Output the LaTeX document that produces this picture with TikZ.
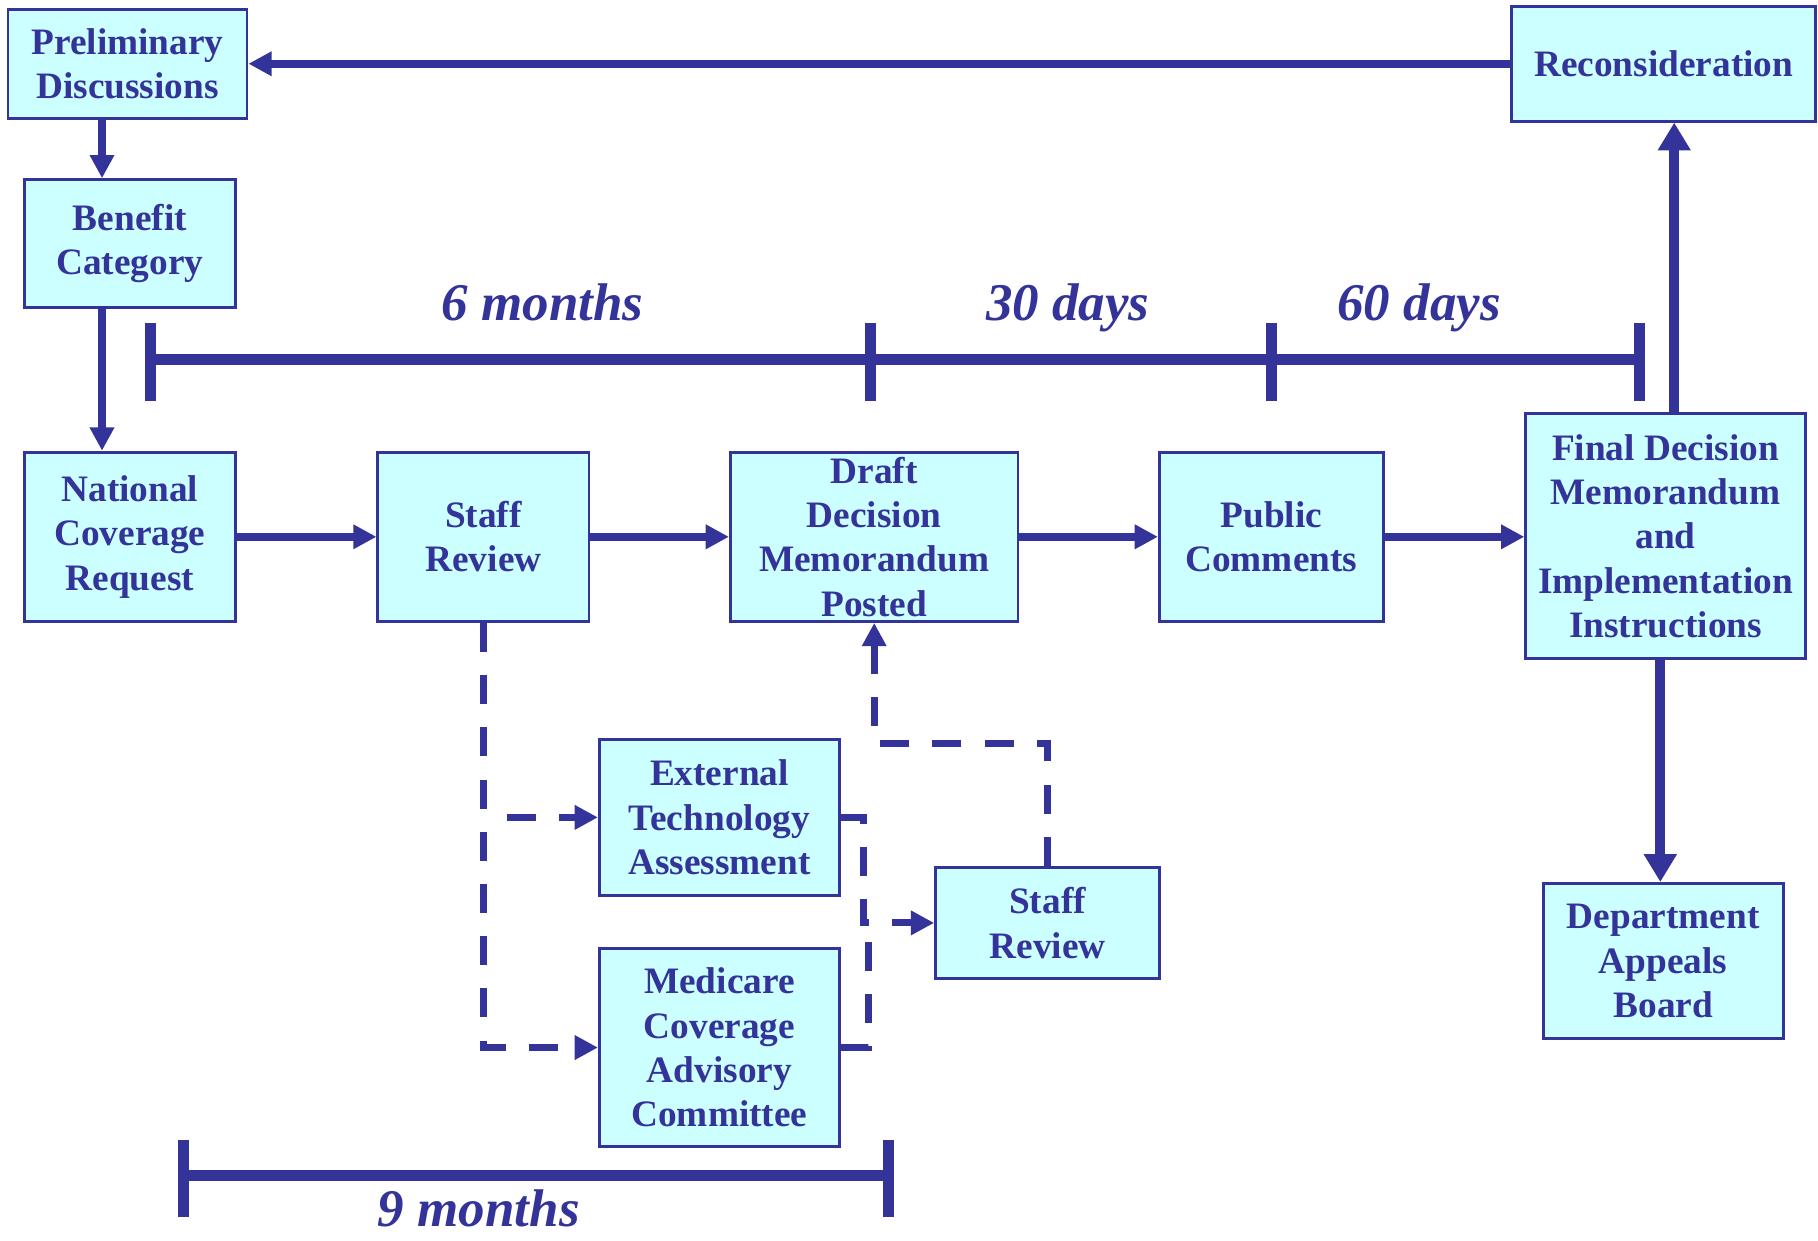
\documentclass[tikz,border=0pt]{standalone}
\usepackage{fontspec}
\setmainfont{Liberation Serif}
\usetikzlibrary{arrows.meta}
\definecolor{ink}{HTML}{333399}
\definecolor{boxfill}{HTML}{CCFFFF}
\begin{document}
\begin{tikzpicture}[x=0.01cm,y=-0.01cm,
  box/.style={draw=ink, fill=boxfill, line width=0.7pt, inner sep=0pt, align=center,
    text=ink, font=\bfseries\fontsize{9.15}{10.9}\selectfont},
  flow/.style={draw=ink, line width=0.065cm, -{Triangle[length=0.2cm,width=0.2cm]}},
  bigflow/.style={draw=ink, line width=0.088cm, -{Triangle[length=0.24cm,width=0.27cm]}},
  dline/.style={draw=ink, line width=0.06cm, dash pattern=on 0.25cm off 0.2cm},
  dflow/.style={dline, -{Triangle[length=0.2cm,width=0.2cm]}},
  bar/.style={draw=ink, line width=0.095cm},
  tlabel/.style={text=ink, inner sep=0pt, anchor=base, font=\bfseries\itshape\fontsize{13}{15}\selectfont}
]
\useasboundingbox (0,0) rectangle (1568,1070);

% boxes
\node[box, minimum width=2.06cm, minimum height=0.94cm] (prelim) at (110,55) {Preliminary\\Discussions};
\node[box, minimum width=2.62cm, minimum height=0.99cm] (recon) at (1435,55) {Reconsideration};
\node[box, minimum width=1.82cm, minimum height=1.10cm] (benefit) at (112,210) {Benefit\\Category};
\node[box, minimum width=1.82cm, minimum height=1.46cm] (ncr) at (112,463) {National\\Coverage\\Request};
\node[box, minimum width=1.82cm, minimum height=1.46cm] (staff) at (417,463) {Staff\\Review};
\node[box, minimum width=2.48cm, minimum height=1.46cm] (draft) at (754,463) {Draft\\Decision\\Memorandum\\Posted};
\node[box, minimum width=1.93cm, minimum height=1.46cm] (public) at (1096.5,463) {Public\\Comments};
\node[box, minimum width=2.41cm, minimum height=2.11cm] (final) at (1436.5,462.5) {Final Decision\\Memorandum\\and\\Implementation\\Instructions};
\node[box, minimum width=2.07cm, minimum height=1.34cm] (eta) at (620.5,705) {External\\Technology\\Assessment};
\node[box, minimum width=2.07cm, minimum height=1.71cm] (mcac) at (620.5,903.5) {Medicare\\Coverage\\Advisory\\Committee};
\node[box, minimum width=1.93cm, minimum height=0.96cm] (staff2) at (903.5,796) {Staff\\Review};
\node[box, minimum width=2.07cm, minimum height=1.34cm] (dept) at (1434.5,829) {Department\\Appeals\\Board};

% solid connectors
\draw[flow] (recon.west) -- (recon.west -| prelim.east);
\draw[flow] ([xshift=-0.22cm]prelim.south) -- ([xshift=-0.22cm]prelim.south |- benefit.north);
\draw[flow] ([xshift=-0.24cm]benefit.south) -- ([xshift=-0.24cm]benefit.south |- ncr.north);
\draw[flow] (ncr.east) -- (staff.west);
\draw[flow] (staff.east) -- (draft.west);
\draw[flow] (draft.east) -- (public.west);
\draw[flow] (public.east) -- (public.east -| final.west);
\draw[bigflow] ([xshift=0.075cm]final.north) -- ([xshift=0.075cm]final.north |- recon.south);
\draw[bigflow] ([xshift=-0.045cm]final.south) -- ([xshift=-0.045cm]final.south |- dept.north);

% dashed connectors
\coordinate (j1) at (745,796);
\coordinate (j2) at (749,796);
\coordinate (j3) at (754,641);
\draw[dflow] (staff.south) |- (mcac.west);
\draw[dflow, dash phase=0.25cm] (staff.south |- eta.west) -- (eta.west);
\draw[dflow] (eta.east) -| (j1) -- (staff2.west);
\draw[dline] (mcac.east) -| (j2);
\draw[dflow] (staff2.north) |- (j3) -- (draft.south);

% upper time line
\coordinate (ta) at (130,310);
\coordinate (tb) at (751,310);
\coordinate (tc) at (1097,310);
\coordinate (td) at (1414,310);
\draw[bar] (ta) -- (td);
\foreach \t in {ta,tb,tc,td} \draw[bar] ([yshift=0.31cm]\t) -- ([yshift=-0.36cm]\t);
\node[tlabel] (l6m) at (468,276) {6 months};
\node[tlabel] (l30) at (921,276) {30 days};
\node[tlabel] (l60) at (1224,276) {60 days};

% lower time line
\coordinate (ba) at (158,1014);
\coordinate (bb) at (766,1014);
\draw[bar] (ba) -- (bb);
\foreach \t in {ba,bb} \draw[bar] ([yshift=0.31cm]\t) -- ([yshift=-0.36cm]\t);
\node[tlabel] (l9m) at (413,1058) {9 months};
\end{tikzpicture}
\end{document}
